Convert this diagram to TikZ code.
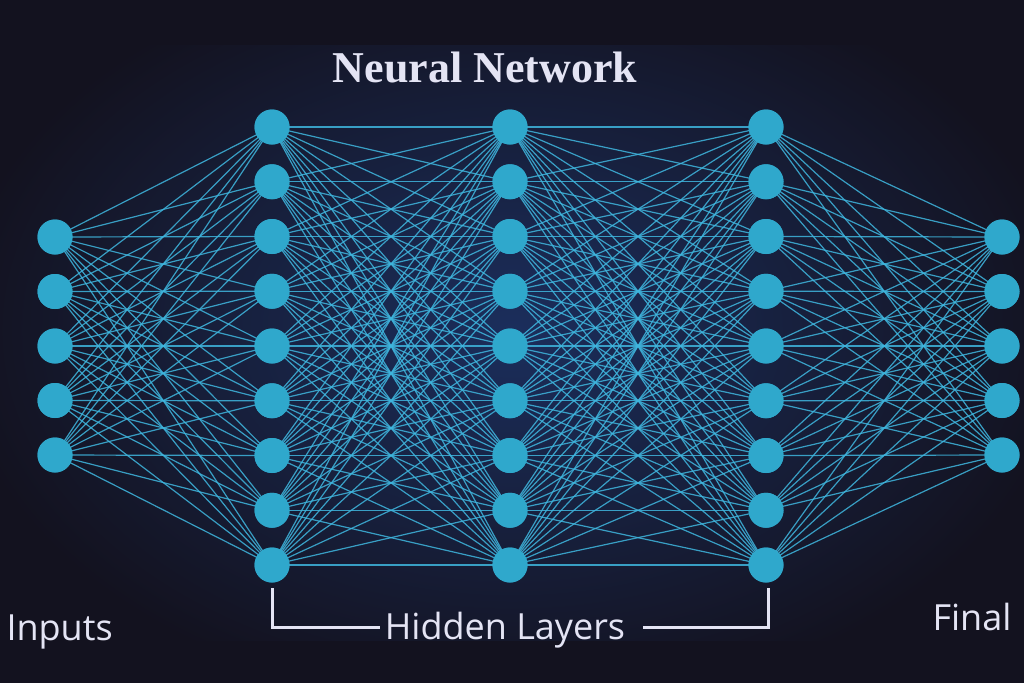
\documentclass[tikz,border=0pt]{standalone}
\usepackage{fontspec}
\setmainfont{Liberation Serif}
\newfontfamily\labfont{Open Sans}
\usetikzlibrary{shadings}
\definecolor{bgdark}{HTML}{13121F}
\definecolor{glow}{HTML}{1B2E5C}
\definecolor{neuron}{HTML}{2FA8CC}
\definecolor{wire}{HTML}{3FB6DE}
\definecolor{txt}{HTML}{E4E4F4}
\tikzset{
  neuronnode/.style={circle,fill=neuron,minimum size=35pt,inner sep=0pt},
  wireline/.style={draw=wire,line width=1.2pt,opacity=0.85},
  labtext/.style={text=txt,font=\labfont\fontsize{36}{38}\selectfont,anchor=base},
  bracket/.style={draw=txt,line width=3pt}
}
\begin{document}
\begin{tikzpicture}[x=1pt,y=-1pt]
\useasboundingbox (0,0) rectangle (1024,683);
\fill[bgdark] (0,0) rectangle (1024,683);
\begin{scope}
\clip (0,45) rectangle (1024,640);
\shade[inner color=glow,outer color=bgdark] (512,330) ellipse (560 and 380);
\end{scope}
% nodes
\foreach \i [evaluate=\i as \yy using {237+(\i-1)*54.5}] in {1,...,5} {
  \node[neuronnode] (a\i) at (55,\yy) {};
  \node[neuronnode] (e\i) at (1002,\yy) {};
}
\foreach \i [evaluate=\i as \yy using {127+(\i-1)*54.75}] in {1,...,9} {
  \node[neuronnode] (b\i) at (272,\yy) {};
  \node[neuronnode] (c\i) at (510,\yy) {};
  \node[neuronnode] (d\i) at (766,\yy) {};
}
% wires
\foreach \i in {1,...,5} \foreach \j in {1,...,9} {
  \draw[wireline] (a\i.center) -- (b\j.center);
  \draw[wireline] (d\j.center) -- (e\i.center);
}
\foreach \i in {1,...,9} \foreach \j in {1,...,9} {
  \draw[wireline] (b\i.center) -- (c\j.center);
  \draw[wireline] (c\i.center) -- (d\j.center);
}
% redraw nodes on top
\foreach \i in {1,...,5} {
  \fill[neuron] (a\i) circle (17.5);
  \fill[neuron] (e\i) circle (17.5);
}
\foreach \i in {1,...,9} {
  \fill[neuron] (b\i) circle (17.5);
  \fill[neuron] (c\i) circle (17.5);
  \fill[neuron] (d\i) circle (17.5);
}
\node[text=txt,font=\bfseries\fontsize{44}{46}\selectfont] (title) at (485,68) {Neural Network};
\node[labtext,anchor=base west] (inp) at (3,640) {Inputs};
\node[labtext] (hid) at (505,639) {Hidden Layers};
\node[labtext,anchor=base west] (fin) at (929,630) {Final};
\coordinate (bl) at (272,588);
\coordinate (br) at (768,588);
\coordinate (bl2) at (380,627);
\coordinate (br2) at (643,627);
\draw[bracket] (bl) |- (bl2);
\draw[bracket] (br) |- (br2);
\end{tikzpicture}
\end{document}
